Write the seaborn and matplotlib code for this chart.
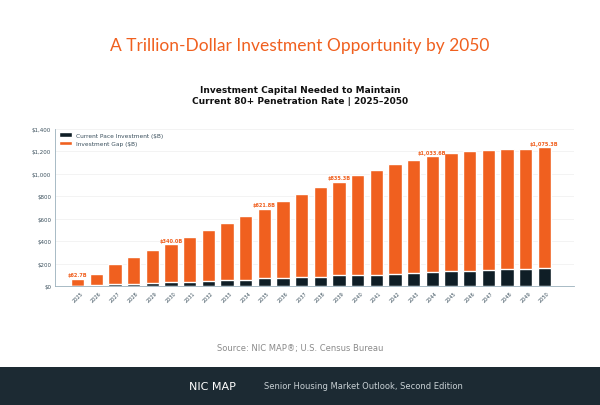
import matplotlib
matplotlib.use("Agg")
import matplotlib.pyplot as plt
import seaborn as sns
import numpy as np
import pandas as pd

years = list(range(2025, 2051))
current_pace = [4, 12, 16, 22, 28, 34, 40, 46, 52, 58, 68, 72, 78, 84, 96, 95, 102, 110, 115, 122, 130, 137, 145, 150, 156, 163]
investment_gap = [62.7, 93, 176, 240, 290, 340.0, 398, 455, 512, 569, 621.8, 684, 738, 795, 835.3, 892, 935, 975, 1009, 1033.6, 1057, 1068, 1066, 1067, 1067, 1075.3]
labeled_years = [2025, 2030, 2035, 2039, 2044, 2050]
yticks = [0, 200, 400, 600, 800, 1000, 1200, 1400]

orange = "#f0601f"
dark = "#0f1e26"

sns.set_theme(style="white")
plt.rcParams['font.family'] = ['DejaVu Sans']

fig = plt.figure(figsize=(6, 4.06), dpi=100)
fig.patch.set_facecolor("white")
ax = fig.add_axes([0.092, 0.293, 0.865, 0.387])

df = pd.DataFrame({"year": [str(y) for y in years], "current": current_pace,
                   "total": np.array(current_pace) + np.array(investment_gap)})
sns.barplot(data=df, x="year", y="total", color=orange, width=0.72, ax=ax,
            label="Investment Gap ($B)", saturation=1)
sns.barplot(data=df, x="year", y="current", color=dark, width=0.72, ax=ax,
            label="Current Pace Investment ($B)", saturation=1)

for i, y in enumerate(years):
    if y in labeled_years:
        g = investment_gap[i]
        ax.text(i, df["total"][i] + 12, f"${g:,.1f}B", ha="center", va="bottom",
                fontsize=3.6, color=orange, fontweight="bold")

ax.set_ylim(0, 1400)
ax.set_yticks(yticks)
ax.set_yticklabels([f"${v:,}" for v in yticks], fontsize=4, color="#3a4f5c")
ax.set_xticks(range(len(years)))
ax.set_xticklabels([str(y) for y in years], rotation=45, fontsize=3.6, color="#3a4f5c")
ax.set_xlabel("")
ax.set_ylabel("")
ax.set_xlim(-1.2, len(years) + 0.6)
ax.grid(axis="y", color="#eeeeee", lw=0.5)
ax.set_axisbelow(True)
for s in ["top", "right"]:
    ax.spines[s].set_visible(False)
for s in ["left", "bottom"]:
    ax.spines[s].set_color("#9ab0bc")
    ax.spines[s].set_linewidth(0.6)
ax.tick_params(axis="both", length=2, width=0.5, pad=1, color="#9ab0bc")

h, l = ax.get_legend_handles_labels()
ax.legend(h[::-1], l[::-1], loc="upper left", fontsize=4.2, frameon=False,
          handlelength=2.2, handleheight=0.8, labelcolor="#3a4f5c", borderaxespad=0.2)

fig.text(0.5, 0.875, "A Trillion-Dollar Investment Opportunity by 2050", ha="center",
         fontsize=12.5, color=orange, family="Lato")
fig.text(0.5, 0.745, "Investment Capital Needed to Maintain\nCurrent 80+ Penetration Rate | 2025\u20132050",
         ha="center", fontsize=6.5, fontweight="bold", color="#111111", linespacing=1.2)
fig.text(0.5, 0.135, "Source: NIC MAP\u00ae; U.S. Census Bureau", ha="center",
         fontsize=6, color="#8a8a8a")

footer = fig.add_axes([0, 0, 1, 0.094])
footer.set_facecolor("#1c2a33")
footer.set_xticks([])
footer.set_yticks([])
for s in footer.spines.values():
    s.set_visible(False)
footer.text(0.315, 0.5, "NIC MAP", color="white", fontsize=8, va="center", ha="left")
footer.text(0.44, 0.5, "Senior Housing Market Outlook, Second Edition", color="#c8d0d4",
            fontsize=6, va="center", ha="left")

fig.savefig("out.png", dpi=100)
